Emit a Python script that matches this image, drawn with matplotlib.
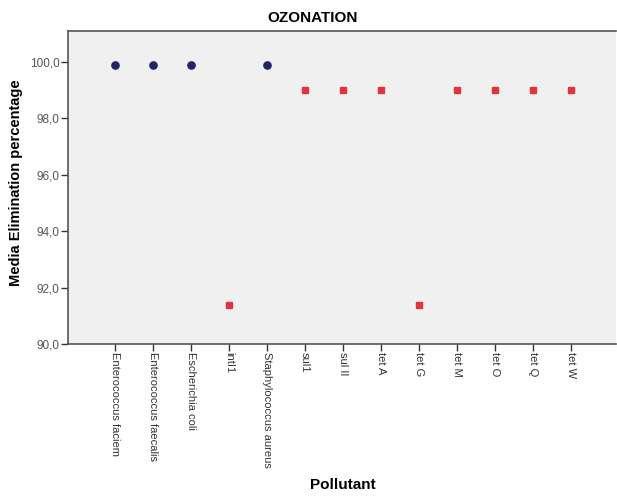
import matplotlib
matplotlib.use('Agg')
import matplotlib.pyplot as plt
from matplotlib.ticker import FuncFormatter

plt.rcParams['font.family'] = ['Liberation Sans', 'DejaVu Sans']

# Pollutants (x categories) and median elimination (%)
pollutants = ['Enterococcus faciem', 'Enterococcus faecalis', 'Escherichia coli',
              'intI1', 'Staphylococcus aureus', 'sul1', 'sul II', 'tet A',
              'tet G', 'tet M', 'tet O', 'tet Q', 'tet W']
bacteria = ['Enterococcus faciem', 'Enterococcus faecalis', 'Escherichia coli',
            'Staphylococcus aureus']
bacteria_vals = [99.9, 99.9, 99.9, 99.9]
genes = ['intI1', 'sul1', 'sul II', 'tet A', 'tet G', 'tet M', 'tet O', 'tet Q', 'tet W']
genes_vals = [91.4, 99.0, 99.0, 99.0, 91.4, 99.0, 99.0, 99.0, 99.0]

yticks = [90, 92, 94, 96, 98, 100]

fig = plt.figure(figsize=(6.17, 4.98), dpi=100)
ax = fig.add_axes([0.110, 0.309, 0.889, 0.629])
ax.set_facecolor('#f0f0f0')

xb = [pollutants.index(p) for p in bacteria]
xg = [pollutants.index(p) for p in genes]
ax.plot(xb, bacteria_vals, 'o', color='#232368', markersize=5.2, zorder=3)
ax.plot(xg, genes_vals, 's', color='#e0353a', markersize=4.3, zorder=3)

ax.set_xlim(-1.23, 13.18)
ax.set_ylim(90, 101.1)
ax.set_xticks(range(len(pollutants)))
ax.set_xticklabels(pollutants, rotation=-90, fontsize=8, color='#333333')
ax.set_yticks(yticks)
ax.yaxis.set_major_formatter(FuncFormatter(lambda v, p: ('%.1f' % v).replace('.', ',')))
ax.tick_params(axis='y', labelsize=8.5, labelcolor='#555555')
ax.tick_params(direction='out', length=5, width=1, color='#333333', pad=1)

for s in ['left', 'bottom', 'top']:
    ax.spines[s].set_color('#555555')
    ax.spines[s].set_linewidth(1.2)
ax.spines['right'].set_visible(False)

fig.text(0.506, 0.963, 'OZONATION', ha='center', va='center', fontsize=11, fontweight='bold')
ax.set_ylabel('Media Elimination percentage', fontsize=10.5, fontweight='bold')
ax.yaxis.set_label_coords(-0.082, 0.514)
fig.text(0.556, 0.026, 'Pollutant', ha='center', va='center', fontsize=11, fontweight='bold')

fig.savefig('out.png', dpi=100)
